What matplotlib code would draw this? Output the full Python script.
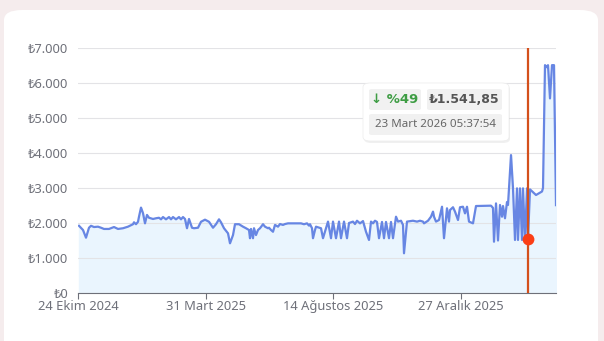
import matplotlib
matplotlib.use('Agg')
import matplotlib.pyplot as plt
from matplotlib.patches import FancyBboxPatch

# price history (x = position along the time axis, value in TL)
xs = [1, 3, 5, 8, 11, 13, 16, 20, 23, 26, 31, 36, 40, 45, 50, 55, 56, 58, 60, 61,
      63, 65, 67, 69, 71, 75, 78, 81, 83, 85, 88, 91, 93, 95, 98, 101, 103, 105, 107, 109,
      111, 114, 116, 120, 123, 127, 131, 135, 138, 141, 143, 146, 150, 152, 155, 157, 161, 165, 168, 171,
      172, 173, 175, 176, 178, 180, 182, 185, 187, 190, 191, 193, 195, 197, 200, 202, 205, 207, 210, 223,
      226, 229, 231, 232, 234, 235, 237, 238, 243, 245, 250, 253, 255, 258, 261, 263, 266, 269, 271, 275,
      277, 279, 282, 285, 288, 291, 293, 295, 297, 299, 301, 304, 306, 308, 311, 313, 315, 318, 320, 323,
      325, 326, 329, 335, 339, 342, 345, 346, 350, 353, 355, 356, 358, 361, 364, 366, 369, 371, 372, 375,
      377, 380, 382, 385, 387, 389, 391, 395, 398, 413, 415, 416, 418, 420, 422, 424, 425, 427, 429, 430,
      433, 435, 437, 439, 440, 442, 444, 445, 447, 449, 450, 452, 455, 458, 461, 464, 465, 467, 469, 470,
      472, 474, 476, 478]
prices = [1920, 1860, 1800, 1580, 1865, 1920, 1885, 1895, 1865, 1830, 1830, 1885, 1830, 1850, 1895, 1965, 2020, 1965, 2035, 2180,
          2440, 2280, 1990, 2230, 2150, 2115, 2135, 2150, 2105, 2170, 2105, 2170, 2105, 2170, 2105, 2170, 2105, 2170, 2115, 1850,
          2115, 1865, 1850, 1865, 2035, 2095, 2035, 1865, 1965, 2105, 2020, 1850, 1705, 1420, 1655, 1965, 1965, 1895, 1850, 1800,
          1565, 1830, 1565, 1850, 1655, 1800, 1850, 1965, 1895, 1850, 1865, 1800, 1750, 1945, 1895, 1970, 1945, 1970, 1990, 1990,
          1965, 1990, 1925, 1965, 1850, 1565, 1800, 1895, 1850, 1565, 2040, 1565, 2040, 1565, 2040, 1565, 2040, 1565, 2000, 2040,
          1970, 2065, 1990, 2055, 1750, 1515, 2040, 1990, 2065, 2030, 1565, 2030, 1565, 2030, 1565, 2030, 1565, 2180, 2040, 2065,
          1945, 1135, 2040, 2065, 2040, 2065, 2040, 1990, 2065, 2180, 2325, 2180, 2040, 2085, 2465, 1565, 2420, 2040, 2370, 2450,
          2325, 2085, 2450, 2465, 2275, 2465, 2040, 1990, 2485, 2495, 2430, 1465, 2560, 1500, 2515, 2180, 2485, 2135, 2600, 2515,
          3940, 2990, 1515, 2990, 1515, 2990, 1515, 2990, 1515, 2990, 1541.85, 2960, 2880, 2800, 2850, 2900, 3000, 6510, 6450, 6510,
          5560, 6510, 6510, 2510]

x_ticks = [0, 128, 255, 383]
x_labels = ['24 Ekim 2024', '31 Mart 2025', '14 Ağustos 2025', '27 Aralık 2025']
y_ticks = [0, 1000, 2000, 3000, 4000, 5000, 6000, 7000]
y_labels = ['₺0', '₺1.000', '₺2.000', '₺3.000', '₺4.000', '₺5.000', '₺6.000', '₺7.000']

hover_x = 450
hover_price = 1541.85
hover_change = '↓ %49'
hover_price_label = '₺1.541,85'
hover_date = '23 Mart 2026 05:37:54'

plt.rcParams['font.family'] = ['Noto Sans', 'DejaVu Sans']

W, H = 604, 341
fig = plt.figure(figsize=(W / 100, H / 100), dpi=100)
fig.patch.set_facecolor('#f5eced')

# white card
card = FancyBboxPatch((4 / W, -20 / H), 594 / W, (H - 10 + 20) / H,
                      boxstyle='round,pad=0,rounding_size=0.03',
                      transform=fig.transFigure, facecolor='white',
                      edgecolor='none', zorder=-10)
fig.patches.append(card)

ax = fig.add_axes([78 / W, 48 / H, 478 / W, 245 / H])
ax.set_facecolor('none')
ax.set_zorder(1)

ax.fill_between(xs, prices, 0, color='#eaf5fe', zorder=1)
ax.plot(xs, prices, color='#6786e3', lw=1.6, zorder=3, solid_joinstyle='round')

ax.axvline(hover_x, color='#d4501c', lw=1.6, zorder=4)
ax.plot([hover_x], [hover_price], 'o', color='#fb3e16', ms=8.5, zorder=5, mec='none')

ax.set_xlim(0, 478)
ax.set_ylim(0, 7000)
ax.set_yticks(y_ticks)
ax.set_yticklabels(y_labels)
ax.set_xticks(x_ticks)
ax.set_xticklabels(x_labels)
ax.grid(axis='y', color='#e3e3e6', lw=0.8, zorder=0)
for s in ['top', 'right', 'left']:
    ax.spines[s].set_visible(False)
ax.spines['bottom'].set_color('#6e7079')
ax.spines['bottom'].set_linewidth(0.8)
ax.tick_params(axis='y', length=0, pad=7, labelsize=9.3, labelcolor='#6e7079')
ax.tick_params(axis='x', length=4, width=0.8, color='#6e7079', pad=1,
               labelsize=9.3, labelcolor='#6e7079')


def fx(px):
    return px / W


def fy(py):
    return 1 - py / H


# tooltip
shadow = FancyBboxPatch((fx(364), fy(143)), 146 / W, 58 / H,
                        boxstyle='round,pad=0,rounding_size=0.012',
                        transform=fig.transFigure, facecolor='#000000',
                        alpha=0.06, edgecolor='none', zorder=10)
fig.patches.append(shadow)
tip = FancyBboxPatch((fx(363), fy(141)), 146 / W, 58 / H,
                     boxstyle='round,pad=0,rounding_size=0.012',
                     transform=fig.transFigure, facecolor='white',
                     edgecolor='#ececec', lw=0.5, zorder=11)
fig.patches.append(tip)

for (x0, y0, w, h) in [(369, 89, 52, 21), (427, 89, 75, 21), (369, 114, 133, 21)]:
    fig.patches.append(FancyBboxPatch((fx(x0), fy(y0 + h)), w / W, h / H,
                                      boxstyle='round,pad=0,rounding_size=0.005',
                                      transform=fig.transFigure,
                                      facecolor='#f1f1f1', edgecolor='none', zorder=12))

fig.text(fx(395), fy(99.5), hover_change, color='#3e9d44', fontsize=9.5,
         fontweight='bold', ha='center', va='center', zorder=13,
         family=['DejaVu Sans'])
fig.text(fx(464.5), fy(99.5), hover_price_label, color='#555555', fontsize=9,
         fontweight='bold', ha='center', va='center', zorder=13,
         family=['DejaVu Sans'])
fig.text(fx(435.5), fy(124.5), hover_date, color='#666666', fontsize=8.3,
         ha='center', va='center', zorder=13)

fig.savefig('out.png', dpi=100, facecolor=fig.get_facecolor())
